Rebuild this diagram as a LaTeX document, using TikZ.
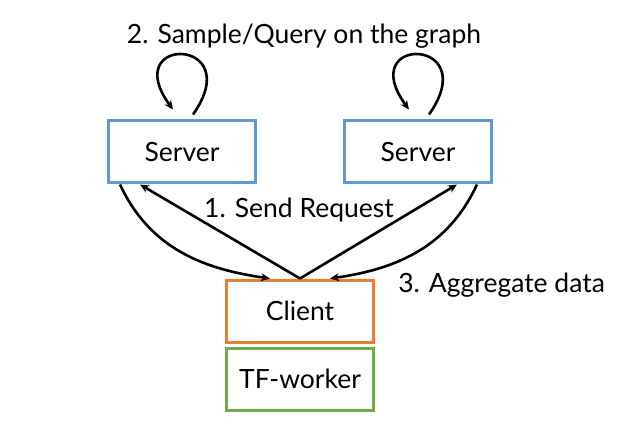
\documentclass[tikz,border=0pt]{standalone}
\usepackage{fontspec}
\setmainfont{Lato}
\usepackage{tikz}
\usetikzlibrary{positioning}
\usetikzlibrary{arrows.meta}
\definecolor{srvblue}{HTML}{5B9BD5}
\definecolor{cliorange}{HTML}{ED7D31}
\definecolor{tfgreen}{HTML}{70AD47}
\tikzset{>={Stealth[length=9pt,width=8pt]}}

\begin{document}
\begin{tikzpicture}[x=1pt, y=1pt, line width=2.6pt,
    box/.style={draw, line width=3pt, minimum width=147pt, minimum height=62pt,
                inner sep=0pt, font=\fontsize{26.5}{30}\selectfont},
    lbl/.style={font=\fontsize{26.5}{30}\selectfont, inner sep=0pt}]

        \useasboundingbox (0,0) rectangle (618,445);

        % Boxes
        \node[box, srvblue, text=black] (ls) at (182,293) {Server};
        \node[box, srvblue, text=black] (rs) at (418,293) {Server};
        \node[box, cliorange, text=black] (cl) at (300,134) {Client};
        \node[box, tfgreen, text=black] (tf) at (300,66) {TF-worker};

        % Labels
        \node[lbl] (title) at (304,409) {2. Sample/Query on the graph};
        \node[lbl] (req) at (299,235) {1. Send Request};
        \node[lbl, anchor=west] (agg) at (397,160) {3. Aggregate data};

        % Self loops on the servers
        \draw[->] ([xshift=86pt,yshift=5pt]ls.north west)
            .. controls +(55,78) and +(-55,75) .. ([xshift=66pt,yshift=10pt]ls.north west);
        \draw[->] ([xshift=86pt,yshift=5pt]rs.north west)
            .. controls +(55,78) and +(-55,75) .. ([xshift=66pt,yshift=10pt]rs.north west);

        % Requests from client to servers
        \draw[->] (cl.north) -- ([xshift=33pt]ls.south west);
        \draw[->] (cl.north) -- ([xshift=-36pt]rs.south east);

        % Data back to client
        \draw[->] ([xshift=13pt]ls.south west) to[out=-65, in=172] ([xshift=-30pt]cl.north);
        \draw[->] ([xshift=-16pt]rs.south east) to[out=-115, in=8] ([xshift=30pt]cl.north);

    \end{tikzpicture}
\end{document}
